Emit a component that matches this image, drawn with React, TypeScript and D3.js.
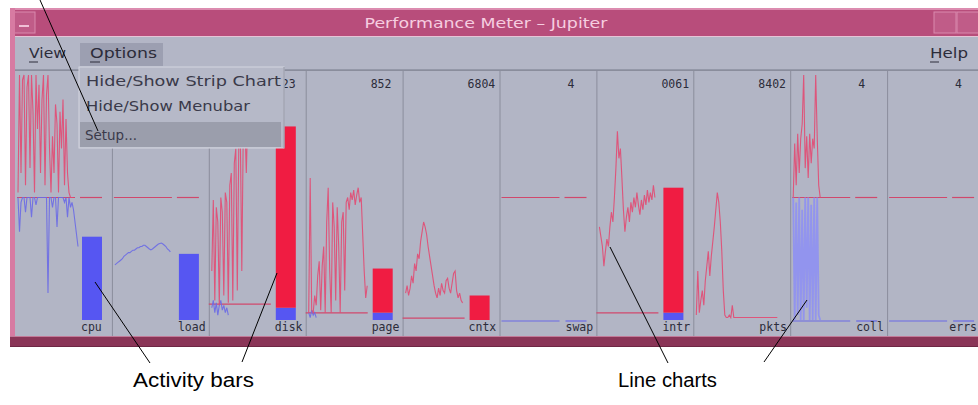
import React from "react";
import * as d3 from "d3";

// ---------- DATA ----------
const panelNames = ["cpu", "load", "disk", "page", "cntx", "swap", "intr", "pkts", "coll", "errs"];
const topLabels = ["", "", "23", "852", "6804", "4", "0061", "8402", "4", "4"];
const barRedValues = [0, 0, 74, 18, 10, 0, 51, 0, 0, 0];
const barBlueValues = [34, 27, 5, 3, 0, 0, 3, 0, 0, 0];
const midThresholds = [50, 50, null, null, null, 50, null, null, 50, 50];
const lowThresholds = [null, null, 6.5, 2.9, 0.8, null, 2.9, null, null, null];
const zeroBaselines = [null, null, null, null, null, 0, null, null, 0, 0];

const cpuRed = [52, 100, 60, 98, 100, 55, 95, 100, 62, 100, 85, 52, 100, 78, 96, 60, 90, 100, 55, 92, 100, 70, 52, 75, 60, 88, 80, 52, 85, 70, 90, 55, 82, 60, 52, 50, 50, 50];
const cpuBlue = [50, 36, 48, 50, 50, 44, 50, 50, 50, 42, 50, 50, 47, 50, 50, 50, 50, 50, 50, 50, 11, 50, 50, 46, 50, 50, 38, 50, 50, 50, 50, 48, 50, 42, 50, 46, 48, 45, 40, 35, 30];
const loadBlue = [22.5, 23, 23.5, 24, 24.5, 25, 26, 26.5, 27, 27.5, 27.5, 28, 28.5, 28.5, 29, 29.5, 29.5, 30, 30, 30.5, 30.5, 30, 29.5, 29, 28.6, 29, 29.5, 30, 30.5, 31, 31.2, 31.4, 31, 30.5, 30, 29, 28.5, 27.8];
const diskRed = [20, 49, 8, 46, 40, 6, 50, 44, 10, 52, 48, 7, 55, 60, 8, 64, 70, 12, 72, 76, 20, 78, 82, 60, 84, 86, 80, 88, 85, 90, 87, 91, 86, 92, 88, 90, 85, 78, 80];
const diskBlue = [5, 8, 3, 7, 2, 6, 8, 4, 6, 3, 5, 2];
const pageRed = [3, 58, 4, 3, 10, 6, 18, 24, 4, 22, 30, 3, 40, 54, 20, 3, 48, 38, 8, 46, 30, 3, 40, 44, 12, 48, 50, 45, 52, 49, 53, 47, 51, 54, 48, 50, 35, 20, 9, 14];
const pageBlue = [3, 1, 4, 2, 3, 1];
const cntxRed = [11, 14, 10, 13, 18, 15, 23, 20, 27, 25, 32, 36, 40, 38, 35, 30, 26, 22, 18, 14, 11, 9, 13, 10, 15, 12, 11, 16, 17, 13, 11, 15, 19, 20, 12, 9, 11, 8, 7];
const intrRed = [38, 34, 30, 22, 28, 33, 30, 38, 44, 40, 50, 62, 77, 66, 70, 58, 45, 36, 42, 46, 40, 48, 44, 50, 46, 52, 47, 43, 49, 45, 51, 47, 53, 48, 52, 49, 55, 50];
const pktsRed = [2, 20, 3, 8, 12, 6, 16, 22, 28, 18, 26, 32, 38, 45, 52, 48, 40, 28, 12, 2, 1, 1, 2, 1, 6, 1, 1, 1, 1, 1, 1, 1, 1, 1, 1, 1, 1, 1, 1, 1, 1, 1, 1, 1, 1, 1, 1, 1, 1, 1, 1, 1, 1, 1, 1];
const collRed = [50, 72, 55, 76, 60, 74, 80, 100, 62, 75, 58, 76, 64, 74, 70, 100, 75, 55, 50];
const collBlue = [50, 0, 48, 2, 50, 0, 45, 0, 50, 5, 50, 0, 47, 0, 50, 0, 50, 2, 0];

const redSeries = [cpuRed, [], diskRed, pageRed, cntxRed, [], intrRed, pktsRed, collRed, []];
const blueSeries = [cpuBlue, loadBlue, diskBlue, pageBlue, [], [], [], [], collBlue, []];

// ---------- STYLE ----------
const C = {
  bg: "#b2b5c5",
  menu: "#b3b6c6",
  title: "#b84d7b",
  titleText: "#f6cde0",
  frame: "#d77ba2",
  frameBottom: "#8a3557",
  divider: "#8a8d9c",
  red: "#e24a72",
  redBar: "#f01c42",
  blue: "#6a6ae6",
  blueBar: "#5656f2",
  text: "#2c2c3a",
};

export default function App() {
  const W = 978, H = 405;
  const xBand = d3.scaleBand<string>().domain(panelNames).range([15, 984]);
  const y = d3.scaleLinear().domain([0, 100]).range([320, 75]);
  const monoCharW = 11.5 * 0.602;

  const panels = panelNames.map((name, i) => {
    const left = xBand(name) as number;
    const xs = d3.scaleLinear().domain([0, 40]).range([left + 3, left + 63]);
    const gen = d3.line<number>().x((_, j) => xs(j)).y((d) => y(d));
    const red = redSeries[i];
    const blue = blueSeries[i];
    const mid = midThresholds[i];
    const low = lowThresholds[i];
    const zero = zeroBaselines[i];
    const bRed = barRedValues[i];
    const bBlue = barBlueValues[i];
    const topOffset = topLabels[i].length === 1 ? 68 : i === 2 ? 73 : 65;
    const labelX = Math.min(left + 66, W - 1 - name.length * monoCharW);
    return (
      <g key={name}>
        {i > 0 && <line x1={left + 0.5} x2={left + 0.5} y1={70} y2={336} stroke={C.divider} strokeWidth={1} />}
        {mid !== null && (
          <g stroke="#d0486c" strokeWidth={1.2}>
            <line x1={left + 2} x2={left + 60} y1={y(mid as number)} y2={y(mid as number)} />
            <line x1={left + 65} x2={left + 87} y1={y(mid as number)} y2={y(mid as number)} />
          </g>
        )}
        {zero !== null && (
          <g stroke={C.blue} strokeWidth={1.2}>
            <line x1={left + 2} x2={left + 60} y1={y(zero as number) + 1} y2={y(zero as number) + 1} />
            <line x1={left + 66} x2={left + 87} y1={y(zero as number) + 1} y2={y(zero as number) + 1} />
          </g>
        )}
        {low !== null && (
          <line x1={left} x2={left + 62} y1={y(low as number)} y2={y(low as number)} stroke="#d0486c" strokeWidth={1.2} />
        )}
        {blue.length > 0 && (
          <path d={gen(blue) || ""} fill="none" stroke={name === "coll" ? "#8e90f2" : C.blue} strokeWidth={name === "coll" ? 1.8 : 1.1} opacity={0.9} />
        )}
        {red.length > 0 && (
          <path d={gen(red) || ""} fill="none" stroke={C.red} strokeWidth={1.1} opacity={0.9} />
        )}
        {bBlue > 0 && (
          <rect x={left + 67} width={20} y={y(bBlue)} height={y(0) - y(bBlue)} fill={C.blueBar} />
        )}
        {bRed > 0 && (
          <rect x={left + 67} width={20} y={y(bBlue + bRed)} height={y(bBlue) - y(bBlue + bRed)} fill={C.redBar} />
        )}
        <text x={labelX} y={331} fontFamily="DejaVu Sans Mono, monospace" fontSize={11.5} fill={C.text}>{name}</text>
        {topLabels[i] && (
          <text x={left + topOffset} y={88} fontFamily="DejaVu Sans Mono, monospace" fontSize={11.5} fill={C.text}>{topLabels[i]}</text>
        )}
      </g>
    );
  });

  const menuFont = "DejaVu Sans, sans-serif";

  return (
    <svg width={W} height={H} style={{ position: "absolute", left: 0, top: 0, background: "#ffffff" }} xmlns="http://www.w3.org/2000/svg">
      {/* window body */}
      <rect x={15} y={70} width={W - 15} height={266} fill={C.bg} />
      <line x1={15} x2={W} y1={70.5} y2={70.5} stroke={C.divider} />
      {panels}
      {/* menu bar */}
      <rect x={15} y={35} width={W - 15} height={35} fill={C.menu} />
      <line x1={15} x2={W} y1={36} y2={36} stroke="#e6c4d6" strokeWidth={2} />
      <line x1={15} x2={W} y1={69.5} y2={69.5} stroke="#9498a8" />
      <text x={29} y={58} fontFamily={menuFont} fontSize={13.5} fill={C.text} textLength={37} lengthAdjust="spacingAndGlyphs">View</text>
      <line x1={29} x2={38} y1={62} y2={62} stroke={C.text} />
      <rect x={80} y={43} width={83} height={23} fill="#9c9fb1" />
      <text x={90} y={58} fontFamily={menuFont} fontSize={13.5} fill={C.text} textLength={67} lengthAdjust="spacingAndGlyphs">Options</text>
      <line x1={90} x2={100} y1={62} y2={62} stroke={C.text} />
      <text x={930} y={58} fontFamily={menuFont} fontSize={13.5} fill={C.text} textLength={38} lengthAdjust="spacingAndGlyphs">Help</text>
      <line x1={930} x2={939} y1={62} y2={62} stroke={C.text} />
      {/* dropdown */}
      <rect x={79} y={67} width={205} height={81} fill="#b6b9c8" stroke="#d4d6e0" strokeWidth={1} />
      <line x1={284} x2={284} y1={67} y2={148} stroke="#8c8f9e" />
      <text x={86} y={86} fontFamily={menuFont} fontSize={14} fill="#3a3a4a" textLength={195} lengthAdjust="spacingAndGlyphs">Hide/Show Strip Chart</text>
      <text x={86} y={111} fontFamily={menuFont} fontSize={14} fill="#3a3a4a" textLength={164} lengthAdjust="spacingAndGlyphs">Hide/Show Menubar</text>
      <rect x={80} y={122} width={201} height={25} fill="#9b9eac" />
      <text x={85} y={140} fontFamily={menuFont} fontSize={14} fill="#3a3a4a" textLength={52} lengthAdjust="spacingAndGlyphs">Setup...</text>
      {/* title bar */}
      <rect x={10} y={8} width={W - 10} height={28} fill={C.title} />
      <line x1={10} x2={W} y1={9} y2={9} stroke="#dc8cb0" strokeWidth={2} />
      <rect x={12} y={12} width={23} height={21} fill="#c05c88" stroke="#d98aae" />
      <line x1={19} x2={29} y1={26} y2={26} stroke="#f0c0d6" strokeWidth={2} />
      <rect x={934} y={12} width={22} height={21} fill="#c05c88" stroke="#d98aae" />
      <rect x={957} y={12} width={22} height={21} fill="#c05c88" stroke="#d98aae" />
      <text x={486} y={28} textAnchor="middle" fontFamily={menuFont} fontSize={14} fill={C.titleText} textLength={243} lengthAdjust="spacingAndGlyphs">Performance Meter – Jupiter</text>
      {/* frame */}
      <rect x={10} y={8} width={5} height={339} fill={C.frame} />
      <rect x={10} y={336} width={W - 10} height={11} fill={C.frameBottom} />
      <line x1={10} x2={W} y1={336.5} y2={336.5} stroke="#c27a98" />
      <line x1={10} x2={W} y1={346.5} y2={346.5} stroke="#6e2744" />
      {/* annotations */}
      <g stroke="#000" strokeWidth={1}>
        <line x1={40} y1={0} x2={98} y2={131} />
        <line x1={95} y1={282} x2={150} y2={363} />
        <line x1={277} y1={273} x2={242} y2={362} />
        <line x1={610} y1={247} x2={668} y2={363} />
        <line x1={807} y1={300} x2={764} y2={362} />
      </g>
      <text x={133} y={387} fontFamily="Liberation Sans, Arial, sans-serif" fontSize={20} fill="#000" textLength={121} lengthAdjust="spacingAndGlyphs">Activity bars</text>
      <text x={618} y={387} fontFamily="Liberation Sans, Arial, sans-serif" fontSize={20} fill="#000" textLength={99} lengthAdjust="spacingAndGlyphs">Line charts</text>
    </svg>
  );
}
